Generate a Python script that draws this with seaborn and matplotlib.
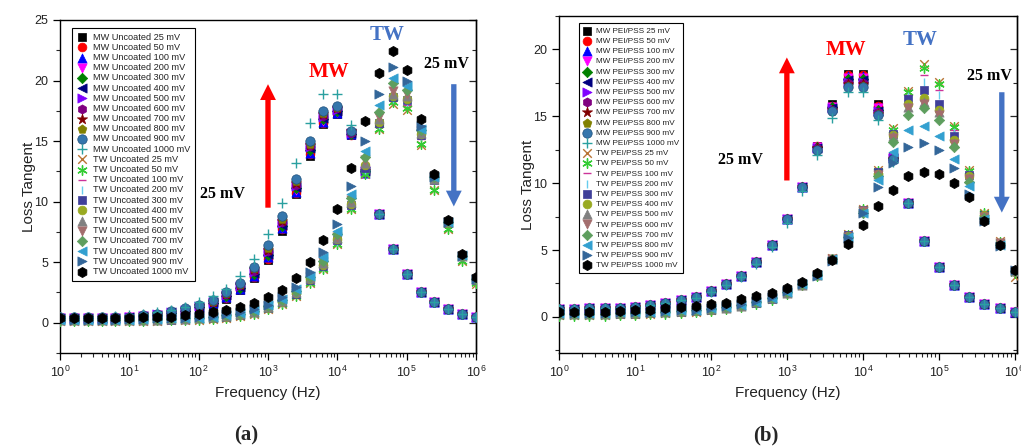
import matplotlib
matplotlib.use("Agg")
import matplotlib.pyplot as plt
import seaborn as sns
from matplotlib.ticker import LogLocator, MultipleLocator, NullFormatter

sns.set_style("ticks")
plt.rcParams["font.family"] = ["Liberation Sans", "DejaVu Sans"]
plt.rcParams["mathtext.default"] = "regular"

# ---------------- data ----------------
freq = [1.0, 1.585, 2.512, 3.981, 6.31, 10.0, 15.85, 25.12, 39.81, 63.1,
        100.0, 158.5, 251.2, 398.1, 631.0, 1000.0, 1585.0, 2512.0, 3981.0, 6310.0,
        1.0e4, 1.585e4, 2.512e4, 3.981e4, 6.31e4, 1.0e5, 1.585e5, 2.512e5, 3.981e5, 6.31e5,
        1.0e6]
voltages = ["25", "50", "100", "200", "300", "400", "500", "600", "700", "800", "900", "1000"]

# panel (a) Uncoated - MW
a_mw_head = [0.4, 0.4, 0.4, 0.4, 0.4, 0.45]
a_mw_tail = [9.0, 6.1, 4.0, 2.55, 1.7, 1.1, 0.7, 0.5]
a_mw_25 = a_mw_head + [0.5, 0.6, 0.75, 0.95, 1.2, 1.5, 2.0, 2.7, 3.7, 5.2, 7.6, 10.6, 13.8, 16.4, 17.2, 15.5, 12.4] + a_mw_tail
a_mw_50 = a_mw_head + [0.5, 0.6, 0.75, 0.95, 1.2, 1.55, 2.05, 2.75, 3.8, 5.3, 7.7, 10.7, 13.9, 16.5, 17.3, 15.5, 12.4] + a_mw_tail
a_mw_100 = a_mw_head + [0.5, 0.6, 0.8, 1.0, 1.25, 1.6, 2.1, 2.8, 3.9, 5.4, 7.8, 10.8, 14.0, 16.6, 17.3, 15.6, 12.4] + a_mw_tail
a_mw_200 = a_mw_head + [0.55, 0.65, 0.8, 1.0, 1.25, 1.6, 2.15, 2.85, 4.0, 5.5, 7.9, 11.0, 14.2, 16.7, 17.4, 15.6, 12.5] + a_mw_tail
a_mw_300 = a_mw_head + [0.55, 0.65, 0.8, 1.0, 1.3, 1.65, 2.2, 2.9, 4.05, 5.6, 8.0, 11.1, 14.3, 16.8, 17.5, 15.6, 12.5] + a_mw_tail
a_mw_400 = a_mw_head + [0.55, 0.65, 0.85, 1.05, 1.3, 1.7, 2.25, 2.95, 4.1, 5.7, 8.1, 11.2, 14.4, 16.9, 17.5, 15.7, 12.5] + a_mw_tail
a_mw_500 = a_mw_head + [0.55, 0.7, 0.85, 1.05, 1.35, 1.7, 2.3, 3.0, 4.2, 5.8, 8.2, 11.3, 14.5, 17.0, 17.6, 15.7, 12.5] + a_mw_tail
a_mw_600 = a_mw_head + [0.6, 0.7, 0.85, 1.1, 1.35, 1.75, 2.35, 3.1, 4.3, 5.9, 8.3, 11.4, 14.6, 17.1, 17.7, 15.7, 12.5] + a_mw_tail
a_mw_700 = a_mw_head + [0.6, 0.7, 0.9, 1.1, 1.4, 1.75, 2.4, 3.15, 4.4, 6.0, 8.4, 11.5, 14.7, 17.2, 17.7, 15.8, 12.5] + a_mw_tail
a_mw_800 = a_mw_head + [0.6, 0.75, 0.9, 1.15, 1.45, 1.8, 2.45, 3.2, 4.5, 6.2, 8.6, 11.7, 14.8, 17.3, 17.8, 15.8, 12.5] + a_mw_tail
a_mw_900 = [0.45, 0.45, 0.45, 0.45, 0.5, 0.5] + [0.6, 0.75, 0.95, 1.2, 1.5, 1.85, 2.5, 3.3, 4.6, 6.4, 8.8, 11.9, 15.0, 17.5, 17.9, 15.8, 12.5] + a_mw_tail
a_mw_1000 = [0.5, 0.5, 0.5, 0.5, 0.55, 0.6] + [0.7, 0.85, 1.05, 1.3, 1.7, 2.2, 2.8, 3.9, 5.3, 7.3, 9.9, 13.2, 16.5, 18.9, 18.9, 16.3, 12.6] + a_mw_tail

# panel (a) Uncoated - TW
a_tw_25 = [0.15, 0.15, 0.15, 0.15, 0.15, 0.15, 0.15, 0.15, 0.2, 0.2, 0.25, 0.3, 0.4, 0.55, 0.75, 1.1, 1.55, 2.2, 3.3, 4.4, 6.5, 9.4, 12.3, 16.0, 18.1, 17.6, 14.7, 11.0, 7.7, 5.1, 3.2]
a_tw_50 = [0.15, 0.15, 0.15, 0.15, 0.15, 0.15, 0.15, 0.2, 0.2, 0.2, 0.25, 0.3, 0.4, 0.55, 0.75, 1.1, 1.55, 2.2, 3.3, 4.45, 6.5, 9.4, 12.3, 16.0, 18.2, 17.7, 14.75, 11.0, 7.7, 5.1, 3.3]
a_tw_100 = [0.15, 0.15, 0.15, 0.15, 0.15, 0.2, 0.2, 0.2, 0.2, 0.25, 0.3, 0.35, 0.45, 0.6, 0.8, 1.15, 1.6, 2.3, 3.4, 4.5, 6.6, 9.5, 12.5, 16.2, 18.4, 18.0, 15.2, 11.7, 8.1, 5.4, 3.5]
a_tw_200 = [0.15, 0.15, 0.15, 0.15, 0.2, 0.2, 0.2, 0.2, 0.25, 0.25, 0.3, 0.35, 0.45, 0.6, 0.85, 1.2, 1.65, 2.35, 3.45, 4.6, 6.7, 9.6, 12.6, 16.3, 18.5, 18.2, 15.4, 11.8, 8.2, 5.4, 3.5]
a_tw_300 = [0.2, 0.2, 0.2, 0.2, 0.2, 0.2, 0.2, 0.25, 0.25, 0.3, 0.35, 0.4, 0.5, 0.65, 0.85, 1.2, 1.7, 2.4, 3.5, 4.7, 6.8, 9.7, 12.8, 16.5, 18.6, 18.4, 15.5, 11.8, 8.2, 5.5, 3.5]
a_tw_400 = [0.2, 0.2, 0.2, 0.2, 0.2, 0.2, 0.25, 0.25, 0.3, 0.3, 0.35, 0.4, 0.5, 0.65, 0.9, 1.25, 1.75, 2.45, 3.6, 4.8, 6.9, 9.8, 13.0, 16.6, 18.7, 18.5, 15.6, 11.9, 8.2, 5.5, 3.6]
a_tw_500 = [0.2, 0.2, 0.2, 0.2, 0.2, 0.25, 0.25, 0.25, 0.3, 0.3, 0.35, 0.45, 0.55, 0.7, 0.9, 1.3, 1.8, 2.5, 3.7, 4.9, 7.0, 10.0, 13.2, 16.8, 18.9, 18.7, 15.7, 11.9, 8.3, 5.5, 3.6]
a_tw_600 = [0.2, 0.2, 0.2, 0.2, 0.2, 0.25, 0.25, 0.3, 0.3, 0.35, 0.4, 0.45, 0.55, 0.7, 0.95, 1.35, 1.85, 2.6, 3.75, 5.0, 7.1, 10.1, 13.4, 17.0, 19.1, 18.9, 15.8, 12.0, 8.3, 5.5, 3.6]
a_tw_700 = [0.2, 0.2, 0.2, 0.2, 0.25, 0.25, 0.25, 0.3, 0.3, 0.35, 0.4, 0.5, 0.6, 0.75, 1.0, 1.4, 1.9, 2.65, 3.8, 5.1, 7.3, 10.3, 13.7, 17.4, 19.8, 19.2, 15.9, 12.0, 8.3, 5.5, 3.6]
a_tw_800 = [0.2, 0.2, 0.2, 0.2, 0.25, 0.25, 0.3, 0.3, 0.35, 0.35, 0.4, 0.5, 0.6, 0.8, 1.05, 1.45, 1.95, 2.75, 3.9, 5.4, 7.6, 10.6, 14.2, 18.0, 20.2, 19.55, 16.0, 12.0, 8.3, 5.6, 3.6]
a_tw_900 = [0.25, 0.25, 0.25, 0.25, 0.25, 0.3, 0.3, 0.35, 0.35, 0.4, 0.45, 0.55, 0.7, 0.9, 1.15, 1.5, 2.1, 2.95, 4.15, 5.8, 8.15, 11.3, 15.0, 18.9, 21.1, 20.0, 16.25, 12.0, 8.3, 5.5, 3.6]
a_tw_1000 = [0.35, 0.35, 0.35, 0.35, 0.4, 0.4, 0.45, 0.45, 0.5, 0.6, 0.7, 0.85, 1.05, 1.3, 1.6, 2.15, 2.7, 3.7, 5.0, 6.85, 9.4, 12.8, 16.7, 20.65, 22.4, 20.9, 16.8, 12.3, 8.5, 5.65, 3.75]

# panel (b) PEI/PSS - MW
b_mw_head = [0.6, 0.6, 0.65, 0.65, 0.7, 0.77, 0.9, 1.07, 1.27, 1.5, 1.93, 2.45, 3.05, 4.1, 5.4, 7.3, 9.7]
b_mw_tail = [8.5, 5.7, 3.7, 2.4, 1.5, 0.97, 0.65, 0.4]
b_mw_25 = b_mw_head + [12.8, 15.9, 18.2, 18.2, 15.9, 12.0] + b_mw_tail
b_mw_50 = b_mw_head + [12.8, 15.8, 18.1, 18.1, 15.8, 12.0] + b_mw_tail
b_mw_100 = b_mw_head + [12.7, 15.8, 18.0, 18.0, 15.7, 12.0] + b_mw_tail
b_mw_200 = b_mw_head + [12.7, 15.7, 17.9, 17.9, 15.6, 11.9] + b_mw_tail
b_mw_300 = b_mw_head + [12.7, 15.7, 17.8, 17.8, 15.5, 11.9] + b_mw_tail
b_mw_400 = b_mw_head + [12.6, 15.6, 17.7, 17.7, 15.4, 11.9] + b_mw_tail
b_mw_500 = b_mw_head + [12.6, 15.6, 17.6, 17.6, 15.4, 11.9] + b_mw_tail
b_mw_600 = b_mw_head + [12.6, 15.5, 17.5, 17.5, 15.3, 11.9] + b_mw_tail
b_mw_700 = b_mw_head + [12.6, 15.5, 17.4, 17.4, 15.2, 11.8] + b_mw_tail
b_mw_800 = b_mw_head + [12.5, 15.4, 17.3, 17.3, 15.2, 11.8] + b_mw_tail
b_mw_900 = b_mw_head + [12.5, 15.4, 17.2, 17.2, 15.1, 11.8] + b_mw_tail
b_mw_1000 = [0.6, 0.6, 0.65, 0.65, 0.7, 0.75, 0.88, 1.05, 1.25, 1.45, 1.88, 2.38, 2.95, 3.95, 5.2, 7.05, 9.4] + [12.1, 14.9, 16.8, 16.8, 14.75, 11.6] + b_mw_tail

# panel (b) PEI/PSS - TW
b_tw_25 = [0.15, 0.15, 0.15, 0.15, 0.2, 0.2, 0.25, 0.3, 0.35, 0.4, 0.5, 0.65, 0.8, 1.05, 1.35, 1.75, 2.4, 3.1, 4.4, 6.2, 8.1, 11.0, 14.1, 16.9, 18.9, 17.6, 14.3, 11.0, 7.8, 5.7, 3.0]
b_tw_50 = [0.1, 0.1, 0.1, 0.1, 0.15, 0.15, 0.2, 0.25, 0.3, 0.35, 0.45, 0.6, 0.75, 1.0, 1.3, 1.7, 2.35, 3.05, 4.35, 6.15, 8.1, 10.9, 14.0, 16.8, 18.6, 17.4, 14.2, 10.9, 7.8, 5.6, 3.3]
b_tw_100 = [0.15, 0.15, 0.15, 0.15, 0.2, 0.2, 0.25, 0.3, 0.35, 0.4, 0.5, 0.6, 0.75, 1.0, 1.3, 1.7, 2.35, 3.05, 4.35, 6.1, 8.0, 10.9, 13.9, 16.6, 18.1, 17.0, 14.0, 10.8, 7.7, 5.6, 3.4]
b_tw_200 = [0.2, 0.2, 0.2, 0.2, 0.2, 0.25, 0.3, 0.3, 0.35, 0.4, 0.5, 0.65, 0.8, 1.05, 1.35, 1.75, 2.4, 3.1, 4.35, 6.1, 8.0, 10.8, 13.8, 16.5, 17.6, 16.6, 13.8, 10.7, 7.7, 5.5, 3.4]
b_tw_300 = [0.2, 0.2, 0.2, 0.2, 0.25, 0.25, 0.3, 0.35, 0.4, 0.45, 0.55, 0.65, 0.8, 1.05, 1.35, 1.75, 2.4, 3.1, 4.35, 6.1, 8.0, 10.8, 13.7, 16.3, 17.0, 15.9, 13.5, 10.6, 7.6, 5.5, 3.4]
b_tw_400 = [0.2, 0.2, 0.2, 0.2, 0.25, 0.25, 0.3, 0.35, 0.4, 0.45, 0.55, 0.7, 0.85, 1.1, 1.4, 1.8, 2.4, 3.1, 4.3, 6.05, 7.9, 10.7, 13.6, 15.9, 16.4, 15.45, 13.2, 10.5, 7.6, 5.5, 3.4]
b_tw_500 = [0.25, 0.25, 0.25, 0.25, 0.3, 0.3, 0.35, 0.4, 0.45, 0.5, 0.6, 0.7, 0.85, 1.1, 1.4, 1.8, 2.4, 3.1, 4.3, 6.0, 7.9, 10.7, 13.5, 15.7, 16.1, 15.3, 13.0, 10.4, 7.5, 5.5, 3.4]
b_tw_600 = [0.25, 0.25, 0.25, 0.25, 0.3, 0.3, 0.35, 0.4, 0.45, 0.5, 0.6, 0.7, 0.85, 1.1, 1.4, 1.8, 2.4, 3.1, 4.3, 6.0, 7.9, 10.6, 13.4, 15.6, 15.9, 15.1, 12.9, 10.3, 7.5, 5.5, 3.4]
b_tw_700 = [0.25, 0.25, 0.25, 0.25, 0.3, 0.3, 0.35, 0.4, 0.45, 0.5, 0.6, 0.75, 0.9, 1.15, 1.45, 1.85, 2.45, 3.1, 4.3, 6.0, 7.8, 10.5, 13.1, 15.1, 15.6, 14.7, 12.7, 10.1, 7.4, 5.4, 3.4]
b_tw_800 = [0.3, 0.3, 0.3, 0.3, 0.35, 0.35, 0.4, 0.45, 0.5, 0.55, 0.65, 0.75, 0.9, 1.15, 1.45, 1.85, 2.45, 3.1, 4.3, 5.95, 7.8, 10.2, 12.3, 14.0, 14.25, 13.5, 11.8, 9.8, 7.3, 5.4, 3.4]
b_tw_900 = [0.3, 0.3, 0.3, 0.3, 0.35, 0.35, 0.4, 0.45, 0.5, 0.55, 0.65, 0.8, 0.95, 1.2, 1.5, 1.9, 2.45, 3.05, 4.2, 5.9, 7.8, 9.7, 11.5, 12.7, 13.0, 12.5, 11.1, 9.2, 7.2, 5.3, 3.5]
b_tw_1000 = [0.4, 0.4, 0.4, 0.4, 0.45, 0.5, 0.55, 0.65, 0.72, 0.82, 0.95, 1.07, 1.32, 1.59, 1.77, 2.19, 2.63, 3.26, 4.25, 5.45, 6.9, 8.3, 9.5, 10.5, 10.8, 10.7, 10.0, 9.0, 7.2, 5.4, 3.5]

a_mw = [a_mw_25, a_mw_50, a_mw_100, a_mw_200, a_mw_300, a_mw_400, a_mw_500, a_mw_600, a_mw_700, a_mw_800, a_mw_900, a_mw_1000]
a_tw = [a_tw_25, a_tw_50, a_tw_100, a_tw_200, a_tw_300, a_tw_400, a_tw_500, a_tw_600, a_tw_700, a_tw_800, a_tw_900, a_tw_1000]
b_mw = [b_mw_25, b_mw_50, b_mw_100, b_mw_200, b_mw_300, b_mw_400, b_mw_500, b_mw_600, b_mw_700, b_mw_800, b_mw_900, b_mw_1000]
b_tw = [b_tw_25, b_tw_50, b_tw_100, b_tw_200, b_tw_300, b_tw_400, b_tw_500, b_tw_600, b_tw_700, b_tw_800, b_tw_900, b_tw_1000]

# ---------------- styles ----------------
ast = (6, 2, 0)
mw_styles = [("s", "#000000", 34), ("o", "#FF0000", 40), ("^", "#0000FF", 44), ("v", "#FF00FF", 44),
             ("D", "#008000", 28), ("<", "#000080", 44), (">", "#8000FF", 44), ("h", "#800080", 44),
             ("*", "#800000", 60), ("p", "#808000", 44), ("o", "#3576AC", 46), ("+", "#2AA0A0", 44)]
tw_styles = [("x", "#B87333", 38), (ast, "#33CC33", 46), ("_", "#CC3399", 40), ("|", "#66CCEE", 40),
             ("s", "#3F3F99", 34), ("o", "#99AA22", 40), ("^", "#808080", 44), ("v", "#A36D6D", 44),
             ("D", "#5E9E5E", 28), ("<", "#33A0D0", 44), (">", "#336699", 44), ("h", "#000000", 54)]

fig = plt.figure(figsize=(10.21, 4.47), dpi=100)
ax_a = fig.add_axes([60 / 1021, 94 / 447, 416 / 1021, 333 / 447])
ax_b = fig.add_axes([559 / 1021, 94 / 447, 458 / 1021, 337 / 447])


def draw(ax, mw, tw, tag):
    labels = [f"MW {tag} {v} mV" for v in voltages] + [f"TW {tag} {v} mV" for v in voltages]
    for lab, vals, (mk, col, s) in zip(labels, mw + tw, mw_styles + tw_styles):
        filled = mk not in ("+", "x", "_", "|", ast)
        if filled:
            edge = "#1D4E7A" if col == "#3576AC" else col
            sns.scatterplot(x=freq, y=vals, ax=ax, marker=mk, color=col, s=s,
                            edgecolor=edge, linewidth=0.5, label=lab, zorder=3)
        else:
            sns.scatterplot(x=freq, y=vals, ax=ax, marker=mk, color=col, s=s,
                            linewidth=1.0, label=lab, zorder=3)


def style_axes(ax, ymin, ymax, xmax, ymajor):
    ax.set_xscale("log")
    ax.set_xlim(1, xmax)
    ax.set_ylim(ymin, ymax)
    ax.xaxis.set_major_locator(LogLocator(base=10, numticks=12))
    ax.xaxis.set_minor_locator(LogLocator(base=10, subs=range(2, 10), numticks=12))
    ax.xaxis.set_minor_formatter(NullFormatter())
    ax.yaxis.set_major_locator(MultipleLocator(ymajor))
    ax.yaxis.set_minor_locator(MultipleLocator(ymajor / 2))
    ax.tick_params(which="major", direction="out", length=5, width=0.9, labelsize=9, colors="black")
    ax.tick_params(which="minor", direction="out", length=3, width=0.8)
    ax.tick_params(axis="x", labelcolor="#222222")
    ax.tick_params(axis="y", labelcolor="#222222")
    for sp in ax.spines.values():
        sp.set_color("black")
        sp.set_linewidth(1.0)
        sp.set_visible(True)
    sec = ax.secondary_yaxis("right")
    sec.yaxis.set_major_locator(MultipleLocator(ymajor))
    sec.yaxis.set_minor_locator(MultipleLocator(ymajor / 2))
    sec.tick_params(which="major", direction="in", length=5, width=0.9, labelright=False)
    sec.tick_params(which="minor", direction="in", length=3, width=0.8)
    sec.spines["right"].set_linewidth(1.0)
    ax.set_xlabel("Frequency (Hz)", fontsize=11, color="#222222", labelpad=4)
    ax.set_ylabel("Loss Tangent", fontsize=11, color="#222222", labelpad=-1)


draw(ax_a, a_mw, a_tw, "Uncoated")
draw(ax_b, b_mw, b_tw, "PEI/PSS")
style_axes(ax_a, -2.5, 25, 1e6, 5)
style_axes(ax_b, -2.7, 22.5, 10 ** 6.03, 5)

leg_a = ax_a.legend(loc="upper left", bbox_to_anchor=(0.029, 0.976), borderaxespad=0,
                    frameon=True, fancybox=False, edgecolor="black", framealpha=1,
                    fontsize=6.6, labelspacing=0.13, handletextpad=0.6, borderpad=0.5,
                    handlelength=1.2, scatterpoints=1)
leg_b = ax_b.legend(loc="upper left", bbox_to_anchor=(0.044, 0.979), borderaxespad=0,
                    frameon=True, fancybox=False, edgecolor="black", framealpha=1,
                    fontsize=5.9, labelspacing=0.3, handletextpad=0.5, borderpad=0.5,
                    handlelength=1.0, scatterpoints=1)
for leg in (leg_a, leg_b):
    leg.get_frame().set_linewidth(0.8)
    for t in leg.get_texts():
        t.set_color("#222222")

serif = ["Liberation Serif", "DejaVu Serif"]
ar_red = dict(arrowstyle="simple,head_length=0.95,head_width=0.95,tail_width=0.32",
              mutation_scale=12, color="#FF0000", shrinkA=0, shrinkB=0, lw=0)
ar_blue = dict(ar_red, color="#4472C4")

# panel (a) annotations
ax_a.text(10 ** 3.88, 20.7, "MW", color="#FF0000", fontsize=15, fontweight="bold", family=serif, ha="center", va="center")
ax_a.text(10 ** 4.72, 23.8, "TW", color="#4472C4", fontsize=15, fontweight="bold", family=serif, ha="center", va="center")
ax_a.text(10 ** 2.34, 10.6, "25 mV", color="black", fontsize=11.5, fontweight="bold", family=serif, ha="center", va="center")
ax_a.text(10 ** 5.58, 21.4, "25 mV", color="black", fontsize=11.5, fontweight="bold", family=serif, ha="center", va="center")
ax_a.annotate("", xy=(10 ** 3.0, 19.7), xytext=(10 ** 3.0, 9.5), arrowprops=ar_red)
ax_a.annotate("", xy=(10 ** 5.68, 9.6), xytext=(10 ** 5.68, 19.7), arrowprops=ar_blue)

# panel (b) annotations
ax_b.text(10 ** 3.78, 19.96, "MW", color="#FF0000", fontsize=15, fontweight="bold", family=serif, ha="center", va="center")
ax_b.text(10 ** 4.76, 20.7, "TW", color="#4472C4", fontsize=15, fontweight="bold", family=serif, ha="center", va="center")
ax_b.text(10 ** 2.39, 11.7, "25 mV", color="black", fontsize=11.5, fontweight="bold", family=serif, ha="center", va="center")
ax_b.text(10 ** 5.67, 18.0, "25 mV", color="black", fontsize=11.5, fontweight="bold", family=serif, ha="center", va="center")
ax_b.annotate("", xy=(10 ** 3.0, 19.4), xytext=(10 ** 3.0, 10.2), arrowprops=ar_red)
ax_b.annotate("", xy=(10 ** 5.83, 7.8), xytext=(10 ** 5.83, 16.8), arrowprops=ar_blue)

fig.text(246 / 1021, 1 - 435 / 447, "(a)", fontsize=15, fontweight="bold", family=serif, ha="center", va="center")
fig.text(766 / 1021, 1 - 435 / 447, "(b)", fontsize=15, fontweight="bold", family=serif, ha="center", va="center")

fig.savefig("out.png", dpi=100)
